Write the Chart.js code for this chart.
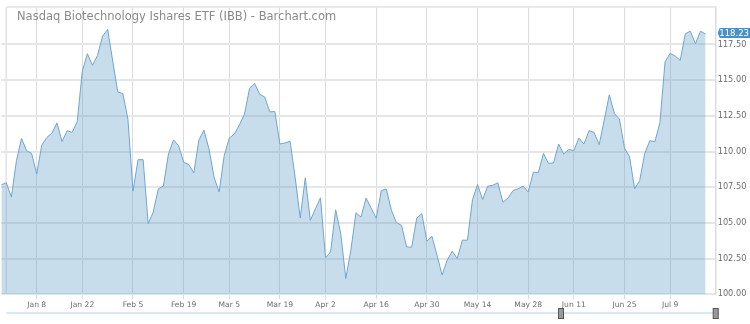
<!DOCTYPE html>
<html><head><meta charset="utf-8">
<script src="https://cdn.jsdelivr.net/npm/chart.js@4/dist/chart.umd.min.js"></script>
<style>html,body{margin:0;padding:0;background:#fff;overflow:hidden}#wrap{position:relative;width:750px;height:324px}</style>
</head><body><div id="wrap"><canvas id="c" width="750" height="324"></canvas></div>
<script>
const dates = ['Dec 27','Dec 28','Dec 29','Jan 2','Jan 3','Jan 4','Jan 5','Jan 8','Jan 9','Jan 10','Jan 11','Jan 12','Jan 16','Jan 17','Jan 18','Jan 19','Jan 22','Jan 23','Jan 24','Jan 25','Jan 26','Jan 29','Jan 30','Jan 31','Feb 1','Feb 2','Feb 5','Feb 6','Feb 7','Feb 8','Feb 9','Feb 12','Feb 13','Feb 14','Feb 15','Feb 16','Feb 20','Feb 21','Feb 22','Feb 23','Feb 26','Feb 27','Feb 28','Mar 1','Mar 2','Mar 5','Mar 6','Mar 7','Mar 8','Mar 9','Mar 12','Mar 13','Mar 14','Mar 15','Mar 16','Mar 19','Mar 20','Mar 21','Mar 22','Mar 23','Mar 26','Mar 27','Mar 28','Mar 29','Apr 2','Apr 3','Apr 4','Apr 5','Apr 6','Apr 9','Apr 10','Apr 11','Apr 12','Apr 13','Apr 16','Apr 17','Apr 18','Apr 19','Apr 20','Apr 23','Apr 24','Apr 25','Apr 26','Apr 27','Apr 30','May 1','May 2','May 3','May 4','May 7','May 8','May 9','May 10','May 11','May 14','May 15','May 16','May 17','May 18','May 21','May 22','May 23','May 24','May 25','May 29','May 30','May 31','Jun 1','Jun 4','Jun 5','Jun 6','Jun 7','Jun 8','Jun 11','Jun 12','Jun 13','Jun 14','Jun 15','Jun 18','Jun 19','Jun 20','Jun 21','Jun 22','Jun 25','Jun 26','Jun 27','Jun 28','Jun 29','Jul 2','Jul 3','Jul 5','Jul 6','Jul 9','Jul 10','Jul 11','Jul 12','Jul 13','Jul 16','Jul 17','Jul 18'];

const prices = [107.67,107.81,106.81,109.36,110.92,110.06,109.87,108.43,110.46,110.99,
111.29,112.01,110.69,111.46,111.34,112.11,115.64,116.85,116.04,116.74,
118.09,118.55,116.34,114.17,114.06,112.27,107.23,109.43,109.43,104.95,
105.76,107.39,107.58,109.83,110.81,110.41,109.25,109.10,108.50,110.80,
111.50,110.18,108.20,107.16,109.71,110.94,111.22,111.87,112.62,114.41,
114.78,114.01,113.82,112.78,112.80,110.53,110.60,110.72,108.20,105.34,
108.16,105.18,105.99,106.76,102.55,102.97,105.92,104.25,101.11,103.09,
105.71,105.41,106.74,106.04,105.32,107.27,107.37,105.88,105.02,104.83,
103.32,103.30,105.34,105.65,103.72,104.06,102.74,101.35,102.39,103.02,
102.51,103.79,103.79,106.62,107.69,106.64,107.57,107.64,107.81,106.44,
106.74,107.27,107.39,107.58,107.16,108.55,108.53,109.87,109.17,109.20,
110.53,109.83,110.15,110.06,110.94,110.53,111.46,111.34,110.48,112.20,
113.97,112.67,112.27,110.25,109.64,107.39,107.97,109.87,110.76,110.69,
112.04,116.27,116.88,116.69,116.39,118.25,118.43,117.55,118.43,118.23];

const tickDates  = ['Jan 8','Jan 22','Feb 5','Feb 20','Mar 5','Mar 19','Apr 2','Apr 16','Apr 30','May 14','May 29','Jun 11','Jun 25','Jul 9'];
const tickLabels = ['Jan 8','Jan 22','Feb 5','Feb 19','Mar 5','Mar 19','Apr 2','Apr 16','Apr 30','May 14','May 28','Jun 11','Jun 25','Jul 9'];
const yTicks = [100, 102.5, 105, 107.5, 110, 112.5, 115, 117.5];
const yMin = 100, yMax = 120.13;
const titleText = 'Nasdaq Biotechnology Ishares ETF (IBB) - Barchart.com';

const FONT = "'DejaVu Sans', sans-serif";
const tickIdx = tickDates.map(d => dates.indexOf(d));
const points = prices.map((v, i) => ({x: i, y: v}));

const deco = {
  id: 'deco',
  beforeDatasetsDraw(chart) {
    const {ctx, chartArea: a} = chart;
    ctx.save();
    ctx.strokeStyle = '#e2e2e2';
    ctx.lineWidth = 1.5;
    ctx.beginPath();
    ctx.moveTo(a.left + 5, a.top); ctx.lineTo(a.right, a.top);
    ctx.moveTo(a.left + 5, a.top); ctx.lineTo(a.left + 5, a.bottom);
    ctx.stroke();
    ctx.restore();
  },
  afterDraw(chart) {
    const {ctx, chartArea: a, scales: {y}} = chart;
    ctx.save();
    // title
    ctx.font = '11.5px ' + FONT;
    ctx.fillStyle = '#8a8a8a';
    ctx.textBaseline = 'middle';
    ctx.textAlign = 'left';
    ctx.fillText(titleText, 17, 17);
    // last value box
    const last = prices[prices.length - 1];
    const py = Math.round(y.getPixelForValue(last)) - 1;
    ctx.fillStyle = '#4a91c2';
    ctx.beginPath();
    ctx.moveTo(a.right + 2, py);
    ctx.lineTo(a.right + 4, py - 5);
    ctx.lineTo(750, py - 5);
    ctx.lineTo(750, py + 5);
    ctx.lineTo(a.right + 4, py + 5);
    ctx.closePath();
    ctx.fill();
    ctx.fillStyle = '#ffffff';
    ctx.font = '8.5px ' + FONT;
    ctx.textAlign = 'right';
    ctx.fillText(last.toFixed(2), 749, py + 0.5);
    // navigator
    ctx.strokeStyle = '#dbe8f1';
    ctx.lineWidth = 2;
    ctx.beginPath();
    ctx.moveTo(a.left + 5, 313); ctx.lineTo(a.right, 313);
    ctx.stroke();
    [561, a.right].forEach(hx => {
      ctx.fillStyle = '#9a9a9a';
      ctx.strokeStyle = '#555';
      ctx.lineWidth = 1;
      ctx.fillRect(hx - 2.5, 308.5, 5, 10);
      ctx.strokeRect(hx - 2.5, 308.5, 5, 10);
    });
    ctx.restore();
  }
};

new Chart(document.getElementById('c'), {
  type: 'line',
  data: {
    datasets: [{
      data: points,
      borderColor: '#6ea6cf',
      borderWidth: 1,
      backgroundColor: 'rgba(110,165,205,0.38)',
      fill: 'start',
      pointRadius: 0,
      tension: 0
    }]
  },
  options: {
    responsive: false,
    devicePixelRatio: 1,
    animation: false,
    layout: {padding: {top: 5.7, left: 1.25, right: 0, bottom: 0}},
    plugins: {legend: {display: false}, tooltip: {enabled: false}, title: {display: false}},
    scales: {
      x: {
        type: 'linear', min: 0, max: 141,
        afterBuildTicks: s => { s.ticks = tickIdx.map(v => ({value: v})); },
        afterFit: s => { s.height = 29.7; },
        ticks: {
          autoSkip: false, maxRotation: 0, padding: 1,
          color: '#6e6e6e', font: {family: FONT, size: 7.6},
          callback: v => tickLabels[tickIdx.indexOf(v)]
        },
        grid: {color: '#dcdcdc', lineWidth: 1, tickLength: 5},
        border: {display: false}
      },
      y: {
        position: 'right', min: yMin, max: yMax,
        afterBuildTicks: s => { s.ticks = yTicks.map(v => ({value: v})); },
        afterFit: s => { s.width = 34.3; },
        ticks: {
          padding: 2, color: '#6e6e6e', font: {family: FONT, size: 8.2},
          callback: v => v.toFixed(2)
        },
        grid: {color: '#e6e6e6', lineWidth: 2, drawTicks: false},
        border: {display: true, color: '#dcdcdc', width: 1.5}
      }
    }
  },
  plugins: [deco]
});
</script></body></html>
